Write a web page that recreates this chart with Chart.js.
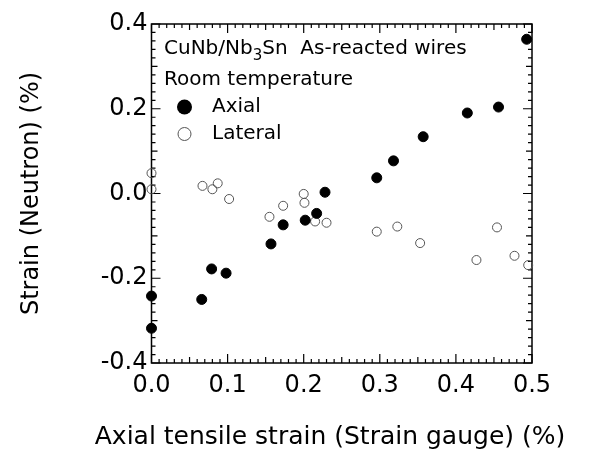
<!DOCTYPE html>
<html>
<head>
<meta charset="utf-8">
<script src="https://cdn.jsdelivr.net/npm/chart.js@4.4.1/dist/chart.umd.min.js"></script>
<style>
  html, body { margin: 0; padding: 0; background: #fff; }
  #wrap { width: 589px; height: 453px; }
</style>
</head>
<body>
<div id="wrap"><canvas id="strainChart"></canvas></div>
<script>
// Axial strain measured by neutron diffraction (filled circles)
const axialX = [0.000, 0.000, 0.066, 0.079, 0.098, 0.157, 0.173, 0.202, 0.217, 0.228, 0.296, 0.318, 0.357, 0.415, 0.456, 0.493];
const axialY = [-0.242, -0.318, -0.250, -0.178, -0.188, -0.119, -0.074, -0.063, -0.047, 0.003, 0.037, 0.077, 0.134, 0.190, 0.204, 0.364];

// Lateral strain (open circles)
const lateralX = [0.000, 0.000, 0.067, 0.080, 0.087, 0.102, 0.155, 0.173, 0.200, 0.201, 0.215, 0.230, 0.296, 0.323, 0.353, 0.427, 0.454, 0.477, 0.495];
const lateralY = [0.048, 0.010, 0.018, 0.010, 0.024, -0.013, -0.055, -0.029, -0.001, -0.022, -0.066, -0.069, -0.090, -0.078, -0.117, -0.157, -0.080, -0.147, -0.169];

const xTicks = [0.0, 0.1, 0.2, 0.3, 0.4, 0.5];
const yTicks = [-0.4, -0.2, 0.0, 0.2, 0.4];
const xTitle = 'Axial tensile strain (Strain gauge) (%)';

const FONT = '"DejaVu Sans", sans-serif';

// box with inward ticks on all four sides
const framePlugin = {
  id: 'frame',
  beforeDatasetsDraw(chart) {
    const { ctx, chartArea: a, scales: { x, y } } = chart;
    ctx.save();
    ctx.strokeStyle = '#000';
    ctx.lineWidth = 1.5;
    ctx.strokeRect(a.left, a.top, a.right - a.left, a.bottom - a.top);
    ctx.lineWidth = 1.2;
    ctx.beginPath();
    for (let i = 0; i <= 50; i++) {
      const px = x.getPixelForValue(i / 100);
      const len = i % 10 === 0 ? 9 : (i % 5 === 0 ? 6 : 4);
      ctx.moveTo(px, a.bottom); ctx.lineTo(px, a.bottom - len);
      ctx.moveTo(px, a.top); ctx.lineTo(px, a.top + len);
    }
    for (let j = -20; j <= 20; j++) {
      const py = y.getPixelForValue(j / 50);
      const len = j % 10 === 0 ? 9 : (j % 5 === 0 ? 6 : 4);
      ctx.moveTo(a.left, py); ctx.lineTo(a.left + len, py);
      ctx.moveTo(a.right, py); ctx.lineTo(a.right - len, py);
    }
    ctx.stroke();
    ctx.restore();
  }
};

// annotation + legend block in the upper left of the plot, x title below
const notePlugin = {
  id: 'note',
  afterDraw(chart) {
    const { ctx, chartArea: a } = chart;
    const fs = 20;
    ctx.save();
    ctx.fillStyle = '#000';
    ctx.textBaseline = 'middle';
    ctx.textAlign = 'left';

    let tx = a.left + 12.5;
    const y1 = a.top + 25;
    ctx.font = `${fs}px ${FONT}`;
    ctx.fillText('CuNb/Nb', tx, y1);
    tx += ctx.measureText('CuNb/Nb').width;
    ctx.font = `${fs * 0.75}px ${FONT}`;
    ctx.fillText('3', tx, y1 + 7);
    tx += ctx.measureText('3').width;
    ctx.font = `${fs}px ${FONT}`;
    ctx.fillText('Sn  As-reacted wires', tx, y1);

    ctx.fillText('Room temperature', a.left + 12.5, a.top + 56);

    const cx = a.left + 33;
    ctx.beginPath();
    ctx.arc(cx, a.top + 83, 7.5, 0, Math.PI * 2);
    ctx.fill();
    ctx.fillText('Axial', a.left + 60.5, a.top + 83);

    ctx.beginPath();
    ctx.arc(cx, a.top + 110, 6.5, 0, Math.PI * 2);
    ctx.strokeStyle = '#555';
    ctx.lineWidth = 1;
    ctx.stroke();
    ctx.fillText('Lateral', a.left + 60.5, a.top + 110);

    // x axis title (drawn here so it is not squeezed to the plot width)
    ctx.textAlign = 'center';
    ctx.font = `25px ${FONT}`;
    ctx.fillText(xTitle, 330, 437);
    ctx.restore();
  }
};

const ctx = document.getElementById('strainChart').getContext('2d');
new Chart(ctx, {
  type: 'scatter',
  data: {
    datasets: [
      {
        label: 'Axial',
        data: axialX.map((v, i) => ({ x: v, y: axialY[i] })),
        pointRadius: 5,
        pointBorderWidth: 1,
        pointBackgroundColor: '#000',
        pointBorderColor: '#000',
        clip: false
      },
      {
        label: 'Lateral',
        data: lateralX.map((v, i) => ({ x: v, y: lateralY[i] })),
        pointRadius: 4.5,
        pointBorderWidth: 1,
        pointBackgroundColor: 'rgba(0,0,0,0)',
        pointBorderColor: '#555',
        clip: false
      }
    ]
  },
  options: {
    responsive: true,
    maintainAspectRatio: false,
    animation: false,
    devicePixelRatio: 1,
    layout: { padding: { top: 24, right: 57, left: 0, bottom: 0 } },
    plugins: { legend: { display: false }, tooltip: { enabled: false } },
    scales: {
      x: {
        type: 'linear',
        min: 0,
        max: 0.5,
        afterBuildTicks: s => { s.ticks = xTicks.map(v => ({ value: v })); },
        afterFit: s => { s.height = 90; },
        grid: { display: false, drawTicks: false },
        border: { display: false },
        ticks: {
          padding: 8,
          color: '#000',
          maxRotation: 0,
          font: { family: FONT, size: 24 },
          callback: v => v.toFixed(1)
        },
        title: { display: false }
      },
      y: {
        type: 'linear',
        min: -0.4,
        max: 0.4,
        afterBuildTicks: s => { s.ticks = yTicks.map(v => ({ value: v })); },
        afterFit: s => { s.width = 151.5; },
        grid: { display: false, drawTicks: false },
        border: { display: false },
        ticks: {
          padding: 4,
          color: '#000',
          font: { family: FONT, size: 24 },
          callback: v => v.toFixed(1)
        },
        title: {
          display: true,
          text: 'Strain (Neutron) (%)',
          color: '#000',
          font: { family: FONT, size: 24 },
          padding: { top: 17, bottom: 0 }
        }
      }
    }
  },
  plugins: [framePlugin, notePlugin]
});
</script>
</body>
</html>
